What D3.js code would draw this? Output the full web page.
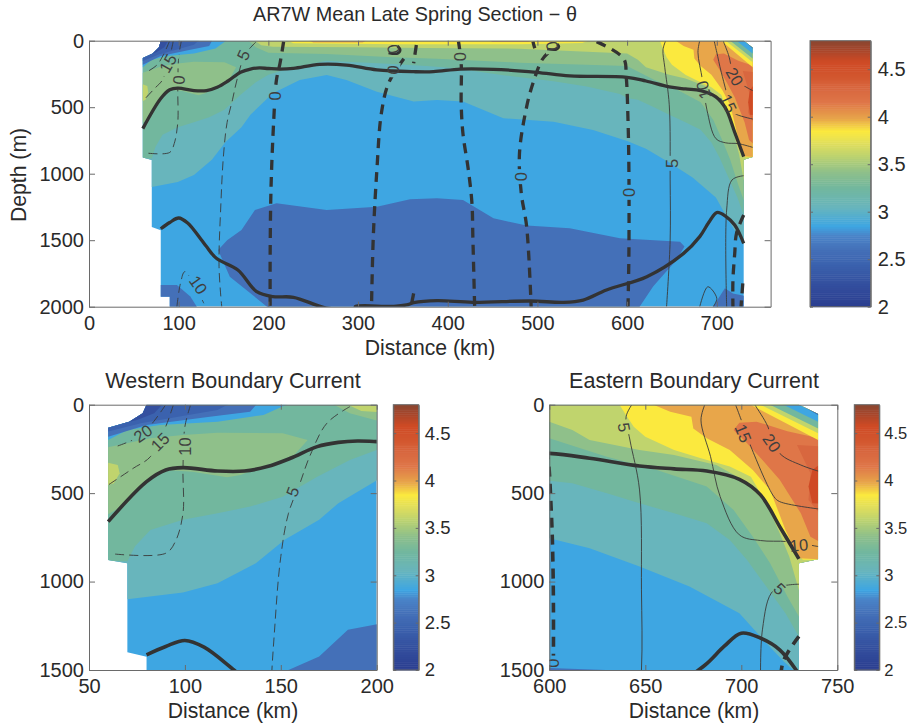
<!DOCTYPE html>
<html lang="en">
<head>
<meta charset="UTF-8">
<title>AR7W Mean Late Spring Section</title>
<script src="https://d3js.org/d3.v7.min.js"></script>
<style>
  body { margin: 0; background: #fff; }
  text { font-family: "Liberation Sans", Arial, sans-serif; fill: #2a2a2a; }
  .tick text { font-size: 20px; }
  .tick line, .domain { stroke: #6a6a6a; }
  .lab { font-size: 16.5px; fill: #3f3f3f; text-anchor: middle; dominant-baseline: central; }
</style>
</head>
<body>
<svg width="912" height="726"></svg>
<script>
// ---- data: distance (km), depth (m), theta (deg C) ----
const thetaTicks = [2, 2.5, 3, 3.5, 4, 4.5];
const thetaDomain = [2, 4.8];
const stopValues = [2, 2.25, 2.45, 2.6, 2.75, 2.85, 3.05, 3.25, 3.42, 3.6, 3.72, 3.85, 3.98, 4.15, 4.3, 4.42, 4.58, 4.7, 4.8];
const stopColors = ["#2a3d8f", "#34509f", "#3b62ae", "#4470b8", "#4a84c8", "#3ea6e2", "#68b5bc", "#72b79e", "#8fc08a", "#c0d46d", "#e0de5c", "#fbe93e", "#e8a64a", "#df7648", "#d8673f", "#d2572f", "#cf4a25", "#a8462b", "#8a4630"];

const sectionOutline = [[80,0],[78,49],[71,96],[60,130],[60,878],[70,897],[70,1400],[80,1425],[80,1925],[90,1925],[90,2000],[730,2000],[730,896],[740,874],[740,53],[730,0]];

const tealTop = [[70,1100],[99,1062],[117,1009],[137,896],[152,764],[170,651],[180,557],[205,396],[235,295],[265,258],[287,295],[321,383],[362,458],[388,446],[417,458],[462,583],[518,609],[562,671],[600,755],[621,812],[647,915],[673,1028],[699,1179],[713,1348],[722,1450],[730,1530]];
const greenTop = [[70,885],[74,800],[82,708],[99,651],[117,614],[134,576],[151,520],[169,407],[186,313],[200,256],[228,200],[265,150],[339,175],[376,190],[406,205],[462,260],[518,305],[555,345],[592,400],[600,430],[612,444],[630,501],[647,557],[665,614],[682,670],[694,765],[703,878],[713,1028],[723,1179],[730,1311]];
const lightGreenTop = [[176,-10],[186,49],[200,90],[265,100],[339,125],[388,135],[480,165],[555,180],[600,190],[630,294],[656,369],[682,463],[696,595],[706,746],[715,896],[724,1085],[730,1198]];
const paleGreenTop = [[183,-10],[192,35],[205,45],[300,50],[376,55],[480,60],[600,96],[612,143],[621,200],[647,256],[665,284],[687,341],[701,426],[713,557],[720,727],[725,859],[730,1047]];
const yellowTop = [[636,-10],[640,60],[644,124],[650,181],[665,256],[679,303],[694,350],[705,407],[711,520],[717,620],[722,708],[732,877]];
const orangeTop = [[652,-10],[663,40],[674,68],[675,134],[682,190],[694,256],[706,369],[715,482],[723,708],[730,868],[740,874]];

const westLightGreen = [[55,252],[82,190],[99,171],[117,158],[151,162],[164,200],[157,284],[143,341],[129,397],[122,410],[104,379],[90,369],[80,426],[70,557],[55,650]];
const westPaleGreen = [[55,316],[65,341],[66,388],[63,444],[55,470]];
const midYellow = [[214,-20],[228,20],[350,27],[480,27],[550,18],[565,-20]];
const midOrange1 = [[240,-20],[250,14],[305,14],[315,-20]];
const midOrange2 = [[440,-20],[450,10],[490,10],[500,-20]];
const eastRed1 = [[696,143],[699,102],[708,96],[724,150],[745,200],[745,802],[736,746],[731,614],[720,425],[711,312],[703,218]];
const eastRed2 = [[745,237],[729,228],[736,388],[735,539],[745,670]];
const eastRed3 = [[745,303],[737,369],[735,463],[737,557],[745,560]];

const westBlue1 = [[50,200],[60,200],[70,143],[87,115],[117,96],[141,58],[155,-10],[50,-10]];
const westBlue2 = [[50,181],[60,181],[80,115],[113,68],[134,40],[138,-10],[50,-10]];
const westBlue3 = [[50,152],[60,152],[77,105],[92,77],[117,30],[124,-10],[50,-10]];
const westBlue4 = [[50,125],[60,125],[75,87],[84,49],[89,-10],[50,-10]];

const eastCorner1 = [[703,-10],[740,200],[750,200],[750,-10]];
const eastCorner2 = [[708,-10],[740,162],[750,162],[750,-10]];
const eastCorner3 = [[713,-10],[740,134],[750,134],[750,-10]];
const eastCorner4 = [[720,-10],[740,96],[750,96],[750,-10]];
const eastCorner5 = [[729,-10],[740,58],[750,58],[750,-10]];

const deepBlueMain = [[144,1574],[154,1500],[170,1424],[185,1273],[209,1223],[265,1273],[321,1248],[358,1193],[388,1185],[417,1198],[451,1335],[488,1390],[536,1411],[592,1486],[659,1511],[664,1548],[655,1649],[629,1849],[612,2020],[202,2020],[180,1899],[157,1774]];
const deepBlueWest = [[70,1837],[98,1837],[113,1924],[122,2020],[70,2020]];
const deepBlueEast = [[694,2020],[709,1862],[718,1900],[735,1925],[735,2020]];

const upperIsopycnal = [[60,661],[80,435],[90,369],[99,356],[117,375],[131,375],[143,350],[155,303],[169,237],[180,213],[190,205],[200,209],[213,213],[228,208],[257,178],[287,183],[321,220],[362,233],[384,233],[414,213],[451,215],[499,238],[536,265],[600,275],[621,303],[647,347],[665,363],[682,375],[699,422],[710,510],[720,689],[730,872]];
const lowerIsopycnal = [[80,1414],[90,1367],[100,1333],[110,1371],[125,1495],[131,1548],[142,1636],[166,1724],[187,1887],[205,1924],[228,1929],[265,2010],[297,2010],[297,1998],[340,1998],[354,1987],[362,1970],[388,1955],[428,1967],[492,1957],[529,1967],[551,1950],[577,1874],[622,1774],[663,1599],[681,1473],[691,1367],[700,1292],[710,1320],[720,1386],[730,1523]];

const zeroLines = [
  [[217,7],[213,170],[209,295],[206,596],[203,1097],[202,1600],[202,2000]],
  [[351,135],[334,320],[326,546],[321,972],[317,1473],[315,2000]],
  [[365,32],[362,170]],
  [[362,1900],[359,2000]],
  [[412,7],[415,170],[415,476],[417,700],[423,972],[427,1223],[428,1473],[430,2000]],
  [[495,7],[497,57]],
  [[512,90],[505,145],[495,320],[488,496],[480,847],[482,1147],[488,1398],[493,2000]],
  [[566,7],[596,133],[599,270],[601,596],[602,972],[602,1598],[601,2000]],
  [[730,1310],[722,1448],[720,1600],[718,1800],[718,2000]],
  [[729,1825],[727,2000]]
];
// the zero contour curls tightly round two of its labels
const zeroHooks = [
  [[334,92],[344,96],[347,70],[344,40]],
  [[511,62],[521,66],[524,45],[522,25]]
];

const dashedMinus5 = [[186,11],[174,105],[165,294],[160,444],[154,614],[150,859],[147,1235],[145,1700],[148,2000]];
const dashedMinus10 = [[103,0],[100,124],[99,369],[99,614],[95,774],[90,840],[63,844]];
const dashedMinus10b = [[98,2000],[102,1824],[107,1736],[128,1974]];
const dashedMinus15 = [[94,0],[90,124],[82,294],[73,360],[60,454]];
const dashedMinus20 = [[90,0],[83,105],[76,181],[64,237]];

const solid5 = [[643,0],[640,68],[642,200],[647,482],[648,1047],[648,1500],[644,2000]];
const solid5b = [[730,1015],[717,1047],[711,1273],[711,2000]];
const solid10 = [[681,0],[679,87],[684,294],[689,520],[699,736],[710,768],[724,774],[740,802]];
const solid15 = [[697,0],[700,87],[705,237],[717,520],[720,548],[740,589]];
const solid20 = [[707,0],[713,105],[720,275],[731,341],[740,375]];
const solidHook = [[681,2000],[690,1850],[700,1937],[696,2000]];

const topLabels = [["15",88,170,-60],["0",100,295,-85],["5",172,107,-65],["0",207,416,-90],["0",339,220,-85],["0",339,63,-100],["0",414,120,-90],["0",516,40,-100],["0",482,1022,-90],["0",602,1140,-90],["5",650,922,-90],["10",685,371,-105],["15",713,471,65],["20",720,270,60],["10",122,1836,55]];
const westLabels = [["20",78,162,-35],["15",87,209,-45],["10",100,237,-90],["5",156,491,-70]];
const eastLabels = [["5",639,128,80],["15",701,162,68],["20",716,215,55],["10",730,793,-5],["5",720,1041,45],["0",602,1461,-90]];

const topDistanceTicks = [0,100,200,300,400,500,600,700];
const topDepthTicks = [0,500,1000,1500,2000];
const westDistanceTicks = [50,100,150,200];
const eastDistanceTicks = [600,650,700,750];
const zoomDepthTicks = [0,500,1000,1500];

// ---- layout ----
const svg = d3.select("svg");
const colour = d3.scaleLinear().domain(stopValues).range(stopColors);
const polyPath = d3.line().curve(d3.curveLinearClosed);
const smooth = d3.line().curve(d3.curveCatmullRom.alpha(0.5));

// band polygon: a boundary closed over the top of the section
function aboveLine(b) {
  return [[0, b[0][1]], ...b, [780, b[b.length - 1][1]], [780, -20], [0, -20]];
}

const fills = [
  [deepBlueMain, 2.6], [deepBlueWest, 2.6], [deepBlueEast, 2.6],
  [aboveLine(tealTop), 3.05], [aboveLine(greenTop), 3.25],
  [aboveLine(lightGreenTop), 3.42], [westLightGreen, 3.42],
  [aboveLine(paleGreenTop), 3.6], [westPaleGreen, 3.6],
  [midYellow, 3.85], [aboveLine(yellowTop), 3.85],
  [aboveLine(orangeTop), 3.98], [midOrange1, 3.98], [midOrange2, 3.98],
  [eastRed1, 4.15], [eastRed2, 4.3], [eastRed3, 4.58],
  [westBlue1, 2.85], [westBlue2, 2.6], [westBlue3, 2.45], [westBlue4, 2.25],
  [eastCorner1, 3.85], [eastCorner2, 3.6], [eastCorner3, 3.25], [eastCorner4, 2.85], [eastCorner5, 2.45]
];

let clipCount = 0;
function drawPanel(p) {
  const w = p.right - p.left, h = p.bottom - p.top;
  const x = d3.scaleLinear().domain(p.xDomain).range([0, w]);
  const y = d3.scaleLinear().domain(p.yDomain).range([0, h]);
  const toPx = pts => pts.map(d => [x(d[0]), y(d[1])]);

  const g = svg.append("g").attr("transform", `translate(${p.left},${p.top})`);
  const id = "clip" + (clipCount++);
  const defs = svg.append("defs");
  defs.append("clipPath").attr("id", id + "a").append("rect").attr("width", w).attr("height", h);
  defs.append("clipPath").attr("id", id + "s").append("path").attr("d", polyPath(toPx(sectionOutline)));

  // contour lines break under their labels
  const mask = defs.append("mask").attr("id", id + "m").attr("maskUnits", "userSpaceOnUse")
    .attr("x", 0).attr("y", 0).attr("width", w).attr("height", h);
  mask.append("rect").attr("width", w).attr("height", h).attr("fill", "#fff");
  mask.selectAll("rect.gap").data(p.labels).enter().append("rect").attr("class", "gap")
    .attr("x", d => -d[0].length * 5.5 - 2).attr("y", -7)
    .attr("width", d => d[0].length * 11 + 4).attr("height", 14)
    .attr("fill", "#000")
    .attr("transform", d => `translate(${x(d[1])},${y(d[2])}) rotate(${d[3]})`);

  const plot = g.append("g").attr("clip-path", `url(#${id}a)`);
  const inner = plot.append("g").attr("clip-path", `url(#${id}s)`);

  inner.append("rect").attr("width", w).attr("height", h).attr("fill", colour(2.85));
  inner.selectAll("path").data(fills).enter().append("path")
    .attr("d", d => polyPath(toPx(d[0])))
    .attr("fill", d => colour(d[1]));

  const lines = plot.append("g").attr("mask", `url(#${id}m)`);

  // thin contours
  const thin = (pts, dash) => lines.append("path").attr("d", smooth(toPx(pts)))
    .attr("fill", "none").attr("stroke", "#3a3a3a").attr("stroke-width", 0.9)
    .attr("stroke-dasharray", dash);
  [dashedMinus5, dashedMinus10, dashedMinus10b, dashedMinus15, dashedMinus20].forEach(l => thin(l, "9 5"));
  [solid5, solid5b, solid10, solid15, solid20, solidHook].forEach(l => thin(l, null));

  // zero contour, thick dashed
  lines.selectAll(".zero").data(zeroLines).enter().append("path").attr("class", "zero")
    .attr("d", d => smooth(toPx(d)))
    .attr("fill", "none").attr("stroke", "#333").attr("stroke-width", p.thick)
    .attr("stroke-dasharray", "10 7");
  plot.selectAll(".hook").data(zeroHooks).enter().append("path").attr("class", "hook")
    .attr("d", d => smooth(toPx(d)))
    .attr("fill", "none").attr("stroke", "#333").attr("stroke-width", p.thick * 0.8);

  // isopycnals, thick solid, drawn over the labels' gaps
  plot.selectAll(".iso").data([upperIsopycnal, lowerIsopycnal]).enter().append("path").attr("class", "iso")
    .attr("d", d => smooth(toPx(d)))
    .attr("fill", "none").attr("stroke", "#333").attr("stroke-width", p.thick);

  plot.selectAll(".lab").data(p.labels).enter().append("text").attr("class", "lab")
    .attr("transform", d => `translate(${x(d[1])},${y(d[2])}) rotate(${d[3]})`)
    .text(d => d[0]);

  // boxed axes with inward ticks, MATLAB style
  g.append("g").attr("transform", `translate(0,${h})`)
    .call(d3.axisBottom(x).tickValues(p.xTicks).tickFormat(d3.format("d")).tickSizeInner(-5).tickSizeOuter(0).tickPadding(9));
  g.append("g").call(d3.axisLeft(y).tickValues(p.yTicks).tickFormat(d3.format("d")).tickSizeInner(-6).tickSizeOuter(0).tickPadding(5));
  g.append("g").call(d3.axisTop(x).tickValues(p.xTicks).tickSizeInner(-5).tickSizeOuter(0).tickFormat(""));
  g.append("g").attr("transform", `translate(${w},0)`)
    .call(d3.axisRight(y).tickValues(p.yTicks).tickSizeInner(-6).tickSizeOuter(0).tickFormat(""));
}

function drawColorbar(c) {
  const b = c.bottom - c.top, w = c.right - c.left;
  const t = d3.scaleLinear().domain(thetaDomain).range([b, 0]);
  const g = svg.append("g").attr("transform", `translate(${c.left},${c.top})`);
  const steps = d3.range(thetaDomain[0], thetaDomain[1], 0.02);
  g.selectAll("rect").data(steps).enter().append("rect")
    .attr("x", 0).attr("width", w)
    .attr("y", d => t(d + 0.02)).attr("height", d => t(d) - t(d + 0.02) + 0.5)
    .attr("fill", d => colour(d + 0.01));
  g.append("g").attr("transform", `translate(${w},0)`)
    .call(d3.axisRight(t).tickValues(thetaTicks).tickFormat(d3.format("")).tickSizeInner(-3).tickSizeOuter(0).tickPadding(c.pad))
    .selectAll("text").style("font-size", c.size + "px");
  g.append("g").call(d3.axisLeft(t).tickValues(thetaTicks).tickFormat("").tickSizeInner(-3).tickSizeOuter(0));
  g.append("rect").attr("width", w).attr("height", b).attr("fill", "none").attr("stroke", "#6a6a6a");
}

drawPanel({ left: 89, right: 770.6, top: 40.7, bottom: 306.7, xDomain: [0, 760], yDomain: [0, 2000], xTicks: topDistanceTicks, yTicks: topDepthTicks, labels: topLabels, thick: 3.3 });
drawPanel({ left: 89, right: 376.7, top: 404.7, bottom: 670, xDomain: [50, 200], yDomain: [0, 1500], xTicks: westDistanceTicks, yTicks: zoomDepthTicks, labels: westLabels, thick: 3.6 });
drawPanel({ left: 549.3, right: 837.3, top: 404.7, bottom: 670, xDomain: [600, 750], yDomain: [0, 1500], xTicks: eastDistanceTicks, yTicks: zoomDepthTicks, labels: eastLabels, thick: 3.6 });

drawColorbar({ left: 810, right: 870.7, top: 40.7, bottom: 306.7, size: 20, pad: 7 });
drawColorbar({ left: 393.3, right: 418.7, top: 404.7, bottom: 670, size: 18.5, pad: 6 });
drawColorbar({ left: 854.3, right: 879.3, top: 404.7, bottom: 670, size: 16.5, pad: 5 });

// titles and axis labels
const addText = (s, x, y, size, rot) => svg.append("text")
  .attr("transform", `translate(${x},${y})` + (rot ? ` rotate(${rot})` : ""))
  .attr("text-anchor", "middle").style("font-size", size + "px").text(s);
addText("AR7W Mean Late Spring Section \u2212 \u03b8", 415, 21, 19.8);
addText("Distance (km)", 430, 355, 21.2);
addText("Depth (m)", 26, 175, 21.2, -90);
addText("Western Boundary Current", 233, 388, 21.5);
addText("Eastern Boundary Current", 694, 388, 21.5);
addText("Distance (km)", 233, 718, 21.2);
addText("Distance (km)", 694, 718, 21.2);
</script>
</body>
</html>
